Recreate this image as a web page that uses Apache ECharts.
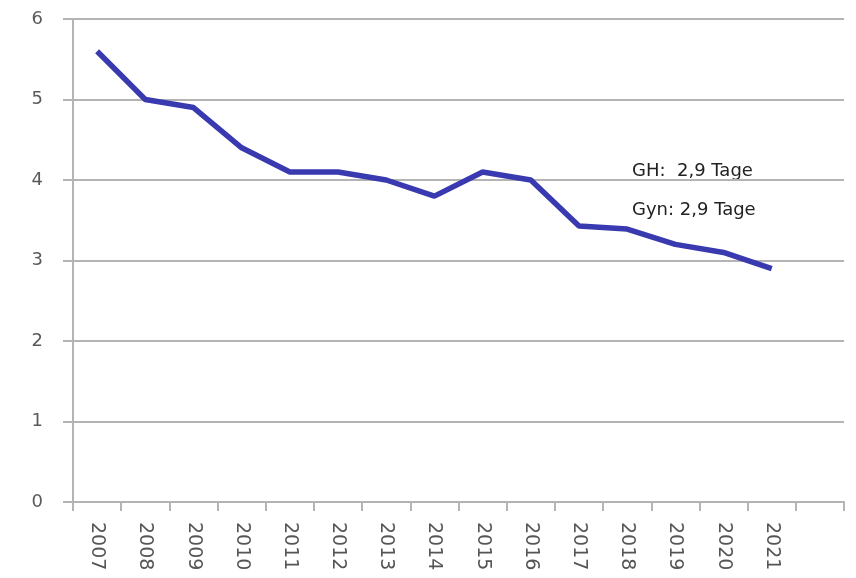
<!DOCTYPE html>
<html>
<head>
<meta charset="utf-8">
<script src="https://cdn.jsdelivr.net/npm/echarts@6/dist/echarts.min.js"></script>
<style>
html,body{margin:0;padding:0;background:#fff;}
#c{width:856px;height:578px;}
</style>
</head>
<body>
<div id="c"></div>
<script>
const categories = ['2007','2008','2009','2010','2011','2012','2013','2014','2015','2016','2017','2018','2019','2020','2021',''];
const values = [5.6, 5.0, 4.9, 4.4, 4.1, 4.1, 4.0, 3.8, 4.1, 4.0, 3.43, 3.39, 3.2, 3.1, 2.9, null];
const yTicks = [0, 1, 2, 3, 4, 5, 6];
const notes = ['GH:  2,9 Tage', 'Gyn: 2,9 Tage'];

const chart = echarts.init(document.getElementById('c'));
const gray = '#b4b4b4';
chart.setOption({
  animation: false,
  backgroundColor: '#fff',
  grid: { left: 73, right: 12, top: 19, bottom: 76, containLabel: false },
  xAxis: {
    type: 'category',
    data: categories,
    boundaryGap: true,
    axisLine: { show: true, lineStyle: { color: gray, width: 2 } },
    axisTick: { show: true, inside: false, length: 9, lineStyle: { color: gray, width: 2 } },
    axisLabel: { rotate: -90, margin: 20, color: '#555', fontSize: 19, fontFamily: 'DejaVu Sans', interval: 0 },
    splitLine: { show: false }
  },
  yAxis: {
    type: 'value',
    min: yTicks[0],
    max: yTicks[yTicks.length - 1],
    interval: 1,
    axisLine: { show: true, lineStyle: { color: gray, width: 2 } },
    axisTick: { show: true, inside: false, length: 10, lineStyle: { color: gray, width: 2 } },
    axisLabel: { margin: 30, color: '#5a5a5a', fontSize: 18, fontFamily: 'DejaVu Sans' },
    splitLine: { show: true, lineStyle: { color: gray, width: 2 } }
  },
  series: [{
    type: 'line',
    data: values,
    symbol: 'none',
    lineStyle: { color: '#3a3ab0', width: 5.5 },
    z: 5
  }],
  graphic: [
    { type: 'text', left: 632, top: 162, style: { text: notes[0], fill: '#222', font: '18px "DejaVu Sans"' } },
    { type: 'text', left: 632, top: 201, style: { text: notes[1], fill: '#222', font: '18px "DejaVu Sans"' } }
  ]
});
</script>
</body>
</html>
